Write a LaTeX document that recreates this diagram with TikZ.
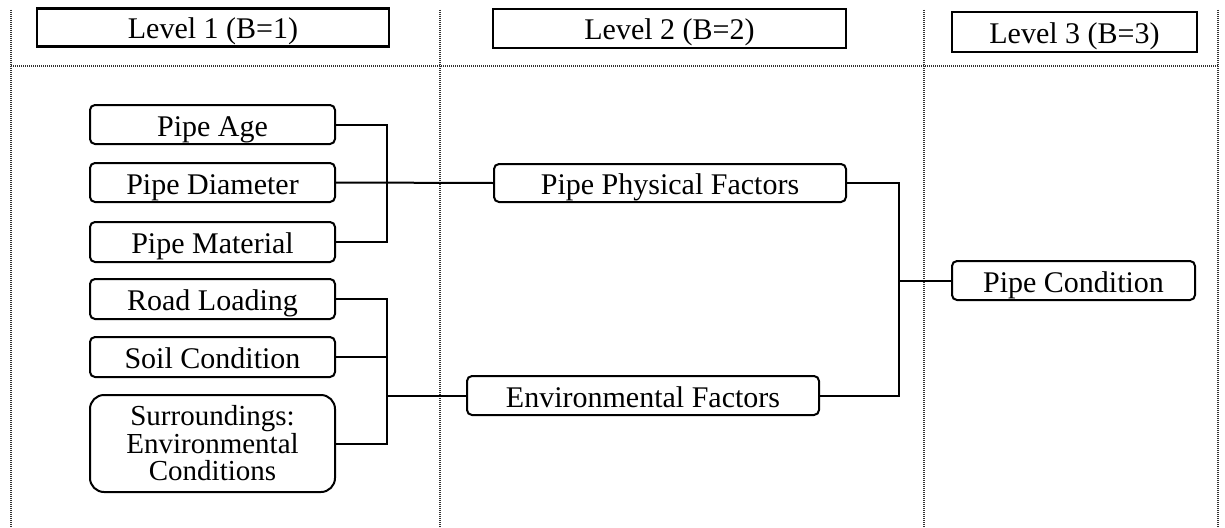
\documentclass[tikz,border=0pt]{standalone}
\usepackage{fontspec}
\setmainfont{Liberation Serif}
\begin{document}
\begin{tikzpicture}[x=1pt,y=-1pt,
  txt/.style={font=\fontsize{30}{25}\selectfont, inner sep=0pt, align=center},
  oneline/.style={text height=27pt, text depth=4pt},
  header/.style={txt, oneline, draw, line width=2.2pt},
  item/.style={txt, draw, line width=2pt, rounded corners=5pt},
  link/.style={line width=2pt},
  grid/.style={line width=1.3pt, dash pattern=on 1pt off 1pt, black!80}]
\useasboundingbox (0,0) rectangle (1225,527);
\fill[white] (0,0) rectangle (1225,527);

% column separators and header rule
\draw[grid] (11,10) -- (11,527);
\draw[grid] (440,10) -- (440,527);
\draw[grid] (924,10) -- (924,527);
\draw[grid] (1218,10) -- (1218,527);
\draw[grid] (11,66) -- (1218,66);

% level headers
\node[header, minimum width=352pt, minimum height=38pt] (h1) at (213,27.5) {Level 1 (B=1)};
\node[header, minimum width=353pt, minimum height=39pt] (h2) at (669.5,28.5) {Level 2 (B=2)};
\node[header, minimum width=245pt, minimum height=40pt] (h3) at (1074.5,32) {Level 3 (B=3)};

% level 1 factors
\node[item, oneline, minimum width=245pt, minimum height=39pt] (age) at (212.5,124.5) {Pipe Age};
\node[item, oneline, minimum width=245pt, minimum height=39pt] (dia) at (212.5,182.5) {Pipe Diameter};
\node[item, oneline, minimum width=245pt, minimum height=40pt] (mat) at (212.5,242) {Pipe Material};
\node[item, oneline, minimum width=245pt, minimum height=40pt] (road) at (212.5,299) {Road Loading};
\node[item, oneline, minimum width=245pt, minimum height=40pt] (soil) at (212.5,357) {Soil Condition};
\node[item, font=\fontsize{29}{27.5}\selectfont, rounded corners=14pt, minimum width=245pt, minimum height=97pt] (sur) at (212.5,443.5) {Surroundings:\\Environmental\\Conditions};

% level 2 factors
\node[item, oneline, minimum width=352pt, minimum height=38pt] (ppf) at (670,183) {Pipe Physical Factors};
\node[item, oneline, minimum width=352pt, minimum height=39pt] (ef) at (643,395.5) {Environmental Factors};

% level 3
\node[item, oneline, minimum width=243pt, minimum height=39pt] (pc) at (1073.5,280.5) {Pipe Condition};

% junction columns
\coordinate (j1) at (387,0);
\coordinate (j2) at (387,0);
\coordinate (j3) at (899,0);

% physical group
\draw[link] (age.east) -- (age.east -| j1) -- (mat.east -| j1) -- (mat.east);
\draw[link] (dia.east) -- (ppf.west);

% environmental group
\draw[link] (road.east) -- (road.east -| j2) -- (sur.east -| j2) -- (sur.east);
\draw[link] (soil.east) -- (soil.east -| j2);
\draw[link] (j2 |- ef.west) -- (ef.west);

% overall condition
\draw[link] (ppf.east) -- (ppf.east -| j3) -- (ef.east -| j3) -- (ef.east);
\draw[link] (j3 |- pc.west) -- (pc.west);
\end{tikzpicture}
\end{document}
